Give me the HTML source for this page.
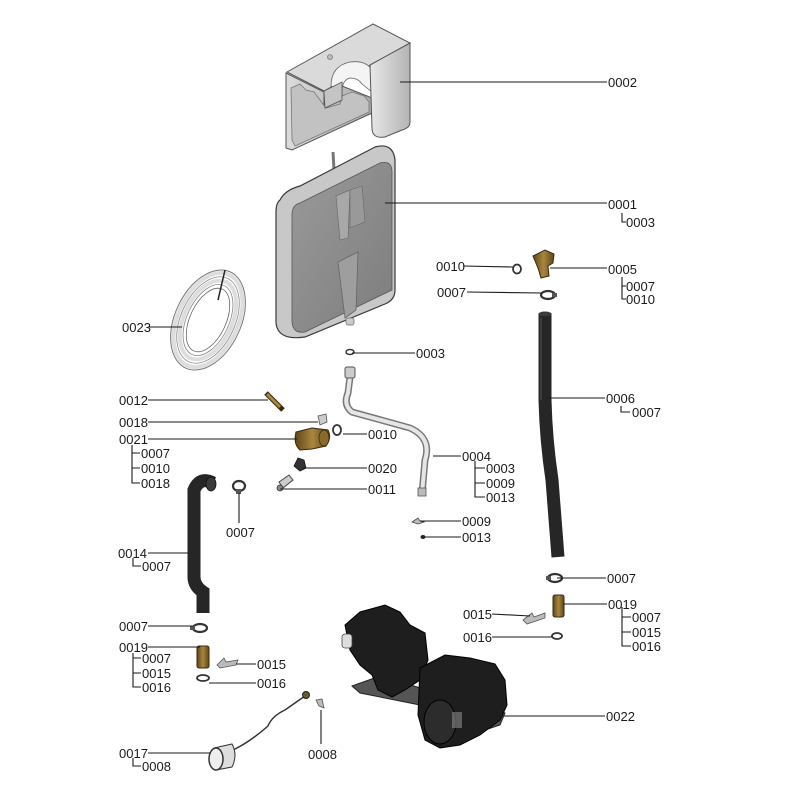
<!DOCTYPE html>
<html><head><meta charset="utf-8"><style>
html,body{margin:0;padding:0;background:#fff;}
svg{display:block;}
text{font-family:"Liberation Sans",Arial,sans-serif;font-size:13px;fill:#1a1a1a;}
.l{stroke:#1a1a1a;stroke-width:1.1;fill:none;}
</style></head><body>
<svg width="800" height="800" viewBox="0 0 800 800" xmlns="http://www.w3.org/2000/svg">
<defs>
<linearGradient id="cov" x1="0" y1="0" x2="1" y2="0"><stop offset="0" stop-color="#e8e8e8"/><stop offset="1" stop-color="#b4b4b4"/></linearGradient>
<linearGradient id="covl" x1="0" y1="0" x2="1" y2="0"><stop offset="0" stop-color="#dcdcdc"/><stop offset="1" stop-color="#a9a9a9"/></linearGradient>
<linearGradient id="tank" x1="0" y1="0" x2="1" y2="1"><stop offset="0" stop-color="#9a9a9a"/><stop offset="1" stop-color="#7d7d7d"/></linearGradient>
<linearGradient id="brass" x1="0" y1="0" x2="1" y2="0"><stop offset="0" stop-color="#5e4618"/><stop offset="0.5" stop-color="#a8863e"/><stop offset="1" stop-color="#5e4618"/></linearGradient>
</defs>

<!-- 0002 cover -->
<path d="M286,73 L324,92 L324,108 L342,100 L342,86 L372,98 L372,113 L292,150 L286,148 Z" fill="url(#covl)" stroke="#555" stroke-width="1"/>
<path d="M291,88 L300,84 L306,90 L314,92 L320,100 L326,108 L340,104 L342,96 L352,92 L364,96 L369,102 L369,112 L295,146 L292,140 Z" fill="#c2c2c2" stroke="#777" stroke-width="0.8"/>
<polygon points="287,72 373,24 410,43 324,91" fill="#dadada" stroke="#555" stroke-width="1"/>
<path d="M331,86 Q331,66 350,62 Q366,60 372,70 L372,92 L362,84 Q358,78 350,78 Q342,80 342,92 Z" fill="#f4f4f4" stroke="#666" stroke-width="0.8"/>
<polygon points="324,91 342,82 342,100 325,108" fill="#c4c4c4" stroke="#555" stroke-width="0.8"/>
<path d="M370,65 L410,43 L410,122 Q410,128 402,130 L385,137 Q372,139 372,128 Z" fill="url(#cov)" stroke="#555" stroke-width="1"/>
<circle cx="330" cy="57" r="2.5" fill="#bbb" stroke="#666" stroke-width="0.6"/>

<!-- 0001 tank -->
<line x1="333" y1="152" x2="334" y2="170" stroke="#777" stroke-width="3"/>
<path d="M280,200 Q285,190 300,186 L375,147 Q393,142 395,160 L395,290 Q395,300 385,304 L305,337 Q277,341 276,322 L276,212 Q276,203 280,200 Z" fill="#c8c8c8" stroke="#3a3a3a" stroke-width="1.2"/>
<path d="M300,203 L380,163 Q392,160 392,172 L392,290 L305,332 Q293,334 292,322 L292,215 Q292,205 300,203 Z" fill="url(#tank)" stroke="#555" stroke-width="0.8"/>
<path d="M336,196 L350,190 L348,238 L340,240 Z" fill="#a8a8a8" stroke="#666" stroke-width="0.6"/>
<path d="M350,190 L362,186 L365,222 L350,228 Z" fill="#999" stroke="#666" stroke-width="0.6"/>
<path d="M338,262 L358,252 L356,310 L345,318 Z" fill="#9e9e9e" stroke="#666" stroke-width="0.8"/>
<rect x="346" y="318" width="8" height="7" rx="2" fill="#ccc" stroke="#666" stroke-width="0.7"/>

<!-- 0023 coil -->
<g transform="rotate(25 208 320)">
<ellipse cx="208" cy="320" rx="33" ry="53" fill="none" stroke="#777" stroke-width="1"/>
<ellipse cx="208" cy="320" rx="30" ry="50" fill="none" stroke="#ddd" stroke-width="4"/>
<ellipse cx="208" cy="320" rx="27" ry="46" fill="none" stroke="#888" stroke-width="0.8"/>
<ellipse cx="208" cy="320" rx="24" ry="42" fill="none" stroke="#ddd" stroke-width="4"/>
<ellipse cx="208" cy="320" rx="21" ry="38" fill="none" stroke="#888" stroke-width="0.8"/>
<ellipse cx="208" cy="320" rx="18" ry="34" fill="none" stroke="#666" stroke-width="0.8"/>
</g>
<path d="M225,270 L218,300" stroke="#222" stroke-width="1.5" fill="none"/>

<!-- 0003 washer -->
<ellipse cx="350" cy="352" rx="4" ry="2.5" fill="none" stroke="#333" stroke-width="1.5"/>

<!-- 0004 pipe -->
<path d="M350,377 L348,393 Q343,405 352,412 L410,428 Q432,438 425,460 L422,494" fill="none" stroke="#777" stroke-width="7"/>
<path d="M350,377 L348,393 Q343,405 352,412 L410,428 Q432,438 425,460 L422,494" fill="none" stroke="#e6e6e6" stroke-width="4"/>
<rect x="345" y="367" width="10" height="11" rx="2" fill="#ccc" stroke="#555" stroke-width="1"/>
<rect x="418" y="488" width="8" height="8" fill="#bbb" stroke="#555" stroke-width="0.8"/>

<!-- 0012 sensor -->
<path d="M266,393 L283,410" stroke="#3a2a10" stroke-width="5"/>
<path d="M267,394 L280,407" stroke="#a8863e" stroke-width="3"/>
<!-- 0018 clip -->
<path d="M318,416 L326,414 L327,422 L320,425 Z" fill="#ccc" stroke="#555" stroke-width="0.8"/>
<!-- 0021 brass -->
<path d="M296,432 L312,428 L328,430 Q332,438 326,446 L312,449 L300,450 Q293,444 296,432 Z" fill="url(#brass)" stroke="#3a2a10" stroke-width="1"/>
<ellipse cx="324" cy="438" rx="5" ry="8" fill="#8a6a2a" stroke="#3a2a10" stroke-width="0.8"/>
<!-- 0010 o-ring -->
<ellipse cx="337" cy="430" rx="4" ry="5" fill="none" stroke="#333" stroke-width="1.8"/>
<!-- 0020 -->
<path d="M294,466 L298,458 L304,460 L306,468 L300,471 Z" fill="#333" stroke="#111" stroke-width="0.8"/>
<!-- 0011 -->
<path d="M279,482 L289,475 L293,480 L283,488 Z" fill="#ccc" stroke="#444" stroke-width="1"/>
<circle cx="280" cy="488" r="3" fill="#888" stroke="#333" stroke-width="0.8"/>

<!-- 0007 clamp left mid -->
<ellipse cx="239" cy="486" rx="6" ry="5" fill="none" stroke="#333" stroke-width="2.2"/>
<rect x="236" y="489" width="5" height="5" fill="#555"/>

<!-- 0009 clip, 0013 dot -->
<path d="M412,522 L418,518 L420,521 L424,522 L418,524 Z" fill="#bbb" stroke="#444" stroke-width="0.8"/>
<ellipse cx="423" cy="537" rx="2.5" ry="2" fill="#222"/>

<!-- 0005 brass elbow -->
<path d="M533,256 L545,250 L554,254 L553,263 L548,266 L549,276 L541,278 L538,268 Z" fill="url(#brass)" stroke="#3a2a10" stroke-width="1"/>
<ellipse cx="517" cy="269" rx="4" ry="4.5" fill="none" stroke="#333" stroke-width="1.8"/>
<!-- 0007 clamp top right -->
<ellipse cx="548" cy="295" rx="7" ry="4" fill="none" stroke="#333" stroke-width="2.2"/>
<rect x="552" y="293" width="5" height="4" fill="#555"/>

<!-- 0006 hose -->
<path d="M545,313 L545,400 Q546,440 552,480 L558,557" fill="none" stroke="#262626" stroke-width="13"/>
<path d="M541,318 L541,400" stroke="#444" stroke-width="1.5"/>
<ellipse cx="545" cy="314" rx="6.5" ry="2.5" fill="#3a3a3a"/>

<!-- 0007 lower right clamp -->
<ellipse cx="555" cy="578" rx="7" ry="4" fill="none" stroke="#333" stroke-width="2.2"/>
<rect x="546" y="576" width="5" height="4" fill="#555"/>
<!-- 0019 brass right -->
<rect x="553" y="595" width="11" height="22" rx="2" fill="url(#brass)" stroke="#3a2a10" stroke-width="1"/>
<!-- 0015 clip right -->
<path d="M523,620 L532,613 L534,617 L545,613 L545,618 L527,624 Z" fill="#bbb" stroke="#555" stroke-width="0.8"/>
<!-- 0016 o-ring right -->
<ellipse cx="557" cy="636" rx="5" ry="3" fill="none" stroke="#333" stroke-width="1.8"/>

<!-- 0014 hose -->
<path d="M213,483 Q200,476 194,490 L194,577 Q194,586 203,592 L203,613" fill="none" stroke="#262626" stroke-width="13"/>
<ellipse cx="211" cy="484" rx="5" ry="7" fill="#3a3a3a" stroke="#111" stroke-width="0.8"/>
<!-- 0007 clamp left -->
<ellipse cx="200" cy="628" rx="7" ry="4" fill="none" stroke="#333" stroke-width="2.2"/>
<rect x="190" y="626" width="5" height="4" fill="#555"/>
<!-- 0019 brass left -->
<rect x="197" y="646" width="12" height="22" rx="2" fill="url(#brass)" stroke="#3a2a10" stroke-width="1"/>
<!-- 0015 clip left -->
<path d="M217,665 L224,658 L226,662 L238,660 L236,665 L220,668 Z" fill="#bbb" stroke="#555" stroke-width="0.8"/>
<!-- 0016 o-ring left -->
<ellipse cx="203" cy="678" rx="6" ry="3" fill="none" stroke="#333" stroke-width="1.8"/>

<!-- 0017 gauge -->
<path d="M233,750 Q250,742 268,726 Q272,716 285,710 L305,696" fill="none" stroke="#333" stroke-width="1.5"/>
<circle cx="306" cy="695" r="3.5" fill="#6a5a2a" stroke="#222" stroke-width="1"/>
<path d="M214,748 L232,744 Q238,755 232,767 L216,770 Z" fill="#ddd" stroke="#333" stroke-width="1"/>
<ellipse cx="216" cy="759" rx="7" ry="11" fill="#eee" stroke="#333" stroke-width="1.5"/>
<!-- 0008 clip -->
<path d="M316,700 L322,699 L324,708 L319,706 Z" fill="#bbb" stroke="#555" stroke-width="0.8"/>

<!-- 0022 pump assembly -->
<polygon points="352,686 380,676 505,713 500,725 470,735 430,715 420,705 360,693" fill="#555" stroke="#222" stroke-width="1"/>
<path d="M345,625 L360,612 L385,605 L400,612 L410,625 L425,633 L428,660 L420,680 L405,690 L392,697 L378,690 L372,675 L360,665 L350,650 Z" fill="#1e1e1e" stroke="#000" stroke-width="1"/>
<rect x="342" y="634" width="10" height="14" rx="3" fill="#ddd" stroke="#444" stroke-width="0.8"/>
<path d="M420,668 L445,655 L470,658 L495,664 L505,680 L507,705 L500,720 L480,735 L460,745 L440,748 L425,740 L418,715 Z" fill="#1e1e1e" stroke="#000" stroke-width="1"/>
<ellipse cx="440" cy="722" rx="16" ry="22" fill="#2c2c2c" stroke="#000" stroke-width="1"/>
<rect x="452" y="712" width="10" height="16" fill="#888" opacity="0.6"/>

<!-- leader lines -->
<path class="l" d="M400,82H607"/>
<path class="l" d="M385,203H607"/>
<path class="l" d="M622,213V222H626"/>
<path class="l" d="M463,266L513,267"/>
<path class="l" d="M550,268H607"/>
<path class="l" d="M622,277V299H626M622,286H626"/>
<path class="l" d="M467,292L542,293"/>
<path class="l" d="M149,327H182"/>
<path class="l" d="M352,353H415"/>
<path class="l" d="M548,398H605"/>
<path class="l" d="M621,406V412H630"/>
<path class="l" d="M148,400H268"/>
<path class="l" d="M148,422H318"/>
<path class="l" d="M148,439H297"/>
<path class="l" d="M132,445V483H140M132,453H140M132,468H140"/>
<path class="l" d="M343,434H367"/>
<path class="l" d="M433,456H461"/>
<path class="l" d="M475,461V497H485M475,468H485M475,483H485"/>
<path class="l" d="M303,468H367"/>
<path class="l" d="M280,489H367"/>
<path class="l" d="M239,493V523"/>
<path class="l" d="M420,521H461"/>
<path class="l" d="M425,537H461"/>
<path class="l" d="M148,553H188"/>
<path class="l" d="M133,558V566H141"/>
<path class="l" d="M557,578H606"/>
<path class="l" d="M563,604H607"/>
<path class="l" d="M622,607V646H631M622,617H631M622,632H631"/>
<path class="l" d="M492,614L530,616"/>
<path class="l" d="M492,637H552"/>
<path class="l" d="M148,626H193"/>
<path class="l" d="M148,647H200"/>
<path class="l" d="M133,653V687H141M133,658H141M133,673H141"/>
<path class="l" d="M236,664H256"/>
<path class="l" d="M209,683H256"/>
<path class="l" d="M493,716H605"/>
<path class="l" d="M148,753H210"/>
<path class="l" d="M133,758V766H141"/>
<path class="l" d="M321,710V744"/>

<!-- labels -->
<text x="608" y="87">0002</text>
<text x="608" y="209">0001</text>
<text x="626" y="227">0003</text>
<text x="436" y="271">0010</text>
<text x="608" y="274">0005</text>
<text x="626" y="291">0007</text>
<text x="626" y="304">0010</text>
<text x="437" y="297">0007</text>
<text x="122" y="332">0023</text>
<text x="416" y="358">0003</text>
<text x="606" y="403">0006</text>
<text x="632" y="417">0007</text>
<text x="119" y="405">0012</text>
<text x="119" y="427">0018</text>
<text x="119" y="444">0021</text>
<text x="141" y="458">0007</text>
<text x="141" y="473">0010</text>
<text x="141" y="488">0018</text>
<text x="368" y="439">0010</text>
<text x="462" y="461">0004</text>
<text x="486" y="473">0003</text>
<text x="486" y="488">0009</text>
<text x="486" y="502">0013</text>
<text x="368" y="473">0020</text>
<text x="368" y="494">0011</text>
<text x="226" y="537">0007</text>
<text x="462" y="526">0009</text>
<text x="462" y="542">0013</text>
<text x="118" y="558">0014</text>
<text x="142" y="571">0007</text>
<text x="607" y="583">0007</text>
<text x="608" y="609">0019</text>
<text x="632" y="622">0007</text>
<text x="632" y="637">0015</text>
<text x="632" y="651">0016</text>
<text x="463" y="619">0015</text>
<text x="463" y="642">0016</text>
<text x="119" y="631">0007</text>
<text x="119" y="652">0019</text>
<text x="142" y="663">0007</text>
<text x="142" y="678">0015</text>
<text x="142" y="692">0016</text>
<text x="257" y="669">0015</text>
<text x="257" y="688">0016</text>
<text x="606" y="721">0022</text>
<text x="119" y="758">0017</text>
<text x="142" y="771">0008</text>
<text x="308" y="759">0008</text>
</svg>
</body></html>
